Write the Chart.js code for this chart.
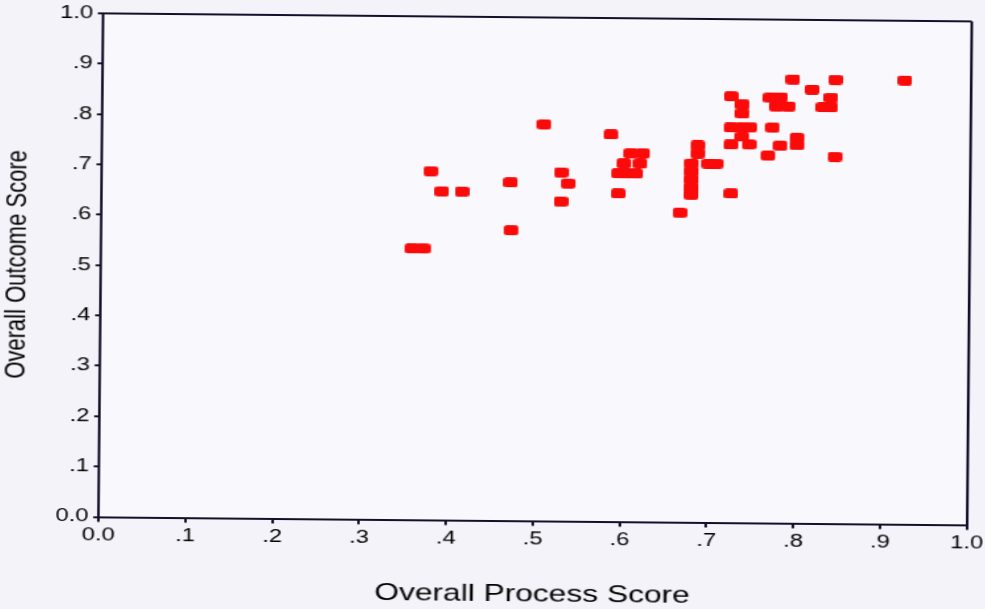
<!DOCTYPE html>
<html>
<head>
<meta charset="utf-8">
<script src="https://cdn.jsdelivr.net/npm/chart.js@4/dist/chart.umd.min.js"></script>
<style>
  html, body { margin: 0; padding: 0; background: #f4f3fa; overflow: hidden; width: 985px; height: 609px; }
  /* drawn at 746 px wide, then widened to 985 px and tilted slightly */
  #wrap {
    width: 746px; height: 609px;
    transform-origin: 0 0;
    transform: translate(492.5px, 304.5px) rotate(0.53deg) translate(-492.5px, -304.5px) scaleX(1.32038);
  }
  canvas { display: block; }
</style>
</head>
<body>
<div id="wrap"><canvas id="chart" width="746" height="609"></canvas></div>
<script>
// Overall process score (x) and overall outcome score (y), one entry per case
const processScore = [
  0.358, 0.371, 0.379, 0.392, 0.415, 0.471, 0.472, 0.509, 0.529, 0.537,
  0.529, 0.586, 0.595, 0.609, 0.623, 0.601, 0.620, 0.595, 0.606, 0.615,
  0.686, 0.686, 0.679, 0.679, 0.679, 0.679, 0.679, 0.666, 0.699, 0.707,
  0.725, 0.724, 0.737, 0.737, 0.724, 0.737, 0.746, 0.737, 0.724, 0.745,
  0.769, 0.781, 0.776, 0.790, 0.772, 0.767, 0.800, 0.781, 0.800, 0.795,
  0.844, 0.924, 0.817, 0.839, 0.830, 0.839, 0.844
];
const outcomeScore = [
  0.539, 0.539, 0.693, 0.653, 0.653, 0.672, 0.577, 0.788, 0.693, 0.671,
  0.635, 0.769, 0.652, 0.732, 0.732, 0.712, 0.712, 0.692, 0.692, 0.692,
  0.749, 0.733, 0.713, 0.697, 0.681, 0.665, 0.651, 0.615, 0.713, 0.713,
  0.654, 0.847, 0.831, 0.813, 0.785, 0.785, 0.786, 0.767, 0.751, 0.752,
  0.845, 0.846, 0.828, 0.828, 0.786, 0.730, 0.766, 0.750, 0.751, 0.882,
  0.882, 0.882, 0.862, 0.846, 0.827, 0.827, 0.729
];
const tickLabels = ['0.0', '.1', '.2', '.3', '.4', '.5', '.6', '.7', '.8', '.9', '1.0'];
const xTitle = 'Overall Process Score';
const yTitle = 'Overall Outcome Score';

const axisColor = '#15102a';
const textColor = '#000000';
const fontFamily = "'Liberation Sans', Arial, sans-serif";

// Rounded red marker
function makeMarker() {
  const w = 11, h = 10;
  const c = document.createElement('canvas');
  c.width = w; c.height = h;
  const g = c.getContext('2d');
  g.fillStyle = '#fb0a0a';
  g.beginPath();
  g.roundRect(0, 0, w, h, 2.5);
  g.fill();
  return c;
}

const isOne = v => Math.abs(v - 1) < 1e-9;
const frameLine = ctx => (ctx.tick && isOne(ctx.tick.value)) ? axisColor : 'rgba(0,0,0,0)';
const tickText = (v, i) => tickLabels[i] !== undefined ? tickLabels[i] : v;

const plotFill = {
  id: 'plotFill',
  beforeDraw(chart) {
    const { ctx, chartArea: a } = chart;
    ctx.save();
    ctx.fillStyle = '#f9f9fd';
    ctx.fillRect(a.left, a.top, a.right - a.left, a.bottom - a.top);
    ctx.restore();
  }
};

new Chart(document.getElementById('chart'), {
  type: 'scatter',
  data: {
    datasets: [{
      data: processScore.map((x, i) => ({ x, y: outcomeScore[i] })),
      pointStyle: makeMarker(),
      pointRadius: 6,
      backgroundColor: '#fb0a0a',
      borderWidth: 0
    }]
  },
  options: {
    responsive: false,
    animation: false,
    layout: { padding: { top: 17.1, right: 12.2, bottom: 0, left: 0 } },
    plugins: { legend: { display: false }, tooltip: { enabled: false } },
    scales: {
      x: {
        type: 'linear', min: 0, max: 1,
        ticks: { stepSize: 0.1, callback: tickText, autoSkip: false, maxRotation: 0,
                 font: { family: fontFamily, size: 18 }, color: textColor, padding: 3 },
        grid: { color: frameLine, tickColor: axisColor, tickLength: 5, lineWidth: 2 },
        border: { color: axisColor, width: 2 },
        title: { display: true, text: xTitle, color: textColor,
                 font: { family: fontFamily, size: 24 }, padding: { top: 0, bottom: 0 } },
        afterFit(s) { s.height = 88.5; s.paddingLeft = 0; s.paddingRight = 0; }
      },
      y: {
        type: 'linear', min: 0, max: 1,
        ticks: { stepSize: 0.1, callback: tickText, autoSkip: false,
                 font: { family: fontFamily, size: 18 }, color: textColor, padding: 3.5 },
        grid: { color: frameLine, tickColor: axisColor, tickLength: 4, lineWidth: 2 },
        border: { color: axisColor, width: 2 },
        title: { display: true, text: yTitle, color: textColor,
                 font: { family: fontFamily, size: 22 }, padding: { top: 0, bottom: 0 } },
        afterFit(s) { s.width = 76.11; s.paddingTop = 0; s.paddingBottom = 0; }
      }
    }
  },
  plugins: [plotFill]
});
</script>
</body>
</html>
